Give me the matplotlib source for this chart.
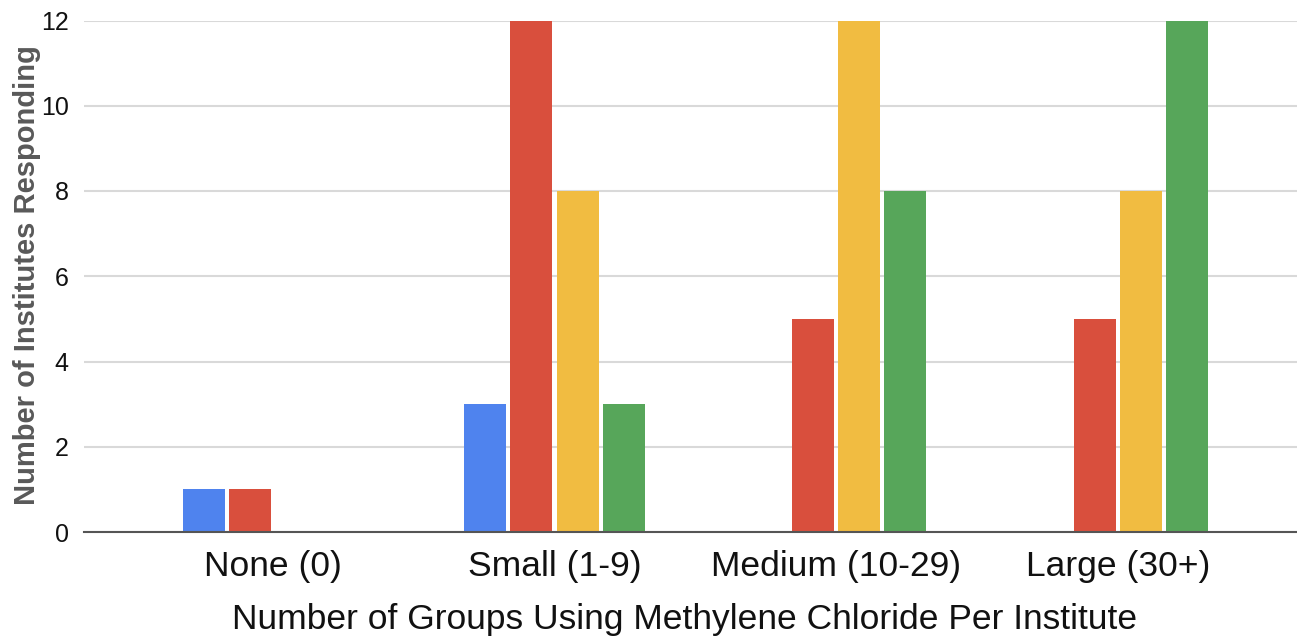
import matplotlib
matplotlib.use("Agg")
import matplotlib.pyplot as plt
import numpy as np

categories = ["None (0)", "Small (1-9)", "Medium (10-29)", "Large (30+)"]
series_blue = [1, 3, 0, 0]
series_red = [1, 12, 5, 5]
series_yellow = [0, 8, 12, 8]
series_green = [0, 3, 8, 12]
y_ticks = [0, 2, 4, 6, 8, 10, 12]

colors = ["#4F83EE", "#D94F3D", "#F1BC41", "#57A65A"]
series = [series_blue, series_red, series_yellow, series_green]

plt.rcParams['font.family'] = ['Liberation Sans', 'DejaVu Sans']

W, H = 1297, 637
fig = plt.figure(figsize=(W / 100, H / 100), dpi=100)
ax = fig.add_axes([84 / W, (H - 532) / H, 1 - 84 / W, (532 - 20.5) / H])

x = np.arange(len(categories))
slot = 0.1633
bw = 0.149
for i, (vals, c) in enumerate(zip(series, colors)):
    ax.bar(x + (i - 1.5) * slot, vals, width=bw, color=c, zorder=3, linewidth=0)

ax.set_ylim(0, 12)
ax.set_xlim(-0.669, 3.634)
ax.set_yticks(y_ticks)
ax.set_yticklabels([str(t) for t in y_ticks], fontsize=18)
ax.set_xticks(x)
ax.set_xticklabels(categories, fontsize=25.5)
ax.tick_params(axis='both', length=0, colors='#111111')
ax.tick_params(axis='y', pad=11)
ax.tick_params(axis='x', pad=13)

ax.grid(axis='y', color='#d9d9d9', linewidth=1.5, zorder=0)
for s in ['top', 'right', 'left']:
    ax.spines[s].set_visible(False)
ax.spines['bottom'].set_color('#555555')
ax.spines['bottom'].set_linewidth(1.5)
ax.spines['bottom'].set_zorder(4)

fig.text(27 / W, 1 - 275 / H, "Number of Institutes Responding", rotation=90,
         ha='center', va='center', fontsize=21, fontweight='bold', color='#595959')
fig.text(685 / W, 1 - 620 / H, "Number of Groups Using Methylene Chloride Per Institute",
         ha='center', va='center', fontsize=25.5, color='#111111')

fig.savefig("out.png", dpi=100)
